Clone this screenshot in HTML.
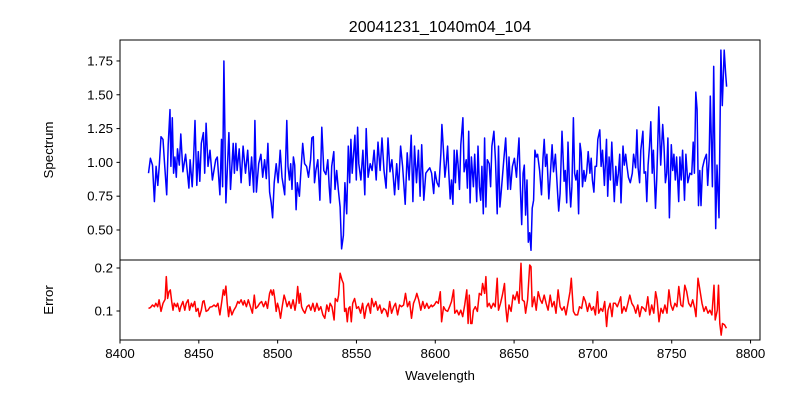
<!DOCTYPE html>
<html><head><meta charset="utf-8"><style>
html,body{margin:0;padding:0;background:#fff;}
svg{display:block;font-family:"Liberation Sans","DejaVu Sans",sans-serif;}
</style></head><body>
<svg id="chart" width="800" height="400" viewBox="0 0 800 400"></svg>
<script>
const specWl=[8418.1,8419.3,8420.6,8421.8,8422.9,8424.0,8425.0,8426.0,8427.3,8428.1,8429.6,8430.6,8431.7,8432.3,8433.2,8434.0,8434.8,8435.7,8436.5,8437.6,8438.6,8439.9,8441.6,8443.7,8444.5,8445.8,8446.6,8447.6,8448.7,8449.7,8450.6,8451.6,8452.9,8453.7,8454.6,8455.8,8457.1,8458.6,8460.7,8461.7,8463.4,8464.4,8465.1,8465.9,8467.2,8469.1,8470.1,8471.8,8472.6,8473.5,8474.3,8475.6,8476.8,8478.1,8479.6,8481.0,8482.3,8483.5,8484.8,8485.6,8486.5,8488.0,8489.4,8490.5,8491.7,8492.8,8493.8,8494.9,8495.9,8496.8,8497.8,8499.1,8500.3,8501.6,
8502.8,8504.5,8505.8,8506.6,8507.5,8508.3,8509.1,8510.0,8510.8,8511.7,8512.5,8513.8,8514.6,8515.9,8517.1,8518.4,8519.6,8520.9,8521.7,8522.6,8523.4,8524.3,8525.5,8526.8,8528.0,8529.3,8530.6,8531.8,8532.7,8533.5,8534.3,8535.6,8536.4,8537.5,8538.5,8539.6,8540.6,8541.7,8542.7,8543.8,8544.8,8545.7,8546.5,8547.3,8549.0,8549.9,8550.7,8551.5,8552.8,8554.1,8555.3,8556.2,8557.4,8558.7,8559.9,8561.2,8562.5,8563.7,8565.0,8566.2,8567.5,8568.8,8570.0,8571.3,8572.5,8573.4,8574.2,8575.5,8576.7,8578.0,8579.3,8580.9,8582.2,8583.4,8584.7,8585.8,8586.8,8588.1,8589.3,8590.4,8591.4,8592.7,8594.0,8595.2,8596.5,8597.7,8599.0,8599.8,8601.1,8602.3,8603.6,8604.2,
8605.3,8606.1,8607.0,8607.8,8608.6,8609.5,8610.3,8611.2,8612.0,8612.8,8613.7,8614.5,8615.4,8616.2,8617.5,8618.3,8619.6,8620.4,8621.2,8622.1,8622.9,8624.2,8625.0,8626.3,8627.1,8628.0,8628.8,8629.6,8630.5,8631.3,8632.1,8633.0,8634.2,8635.1,8635.9,8637.2,8638.2,8639.3,8640.1,8641.0,8641.8,8642.6,8643.5,8644.7,8646.0,8646.8,8647.7,8648.9,8650.2,8651.5,8652.3,8653.1,8654.0,8654.8,8655.7,8656.5,8657.3,8658.2,8659.0,8659.9,8660.7,8661.5,8662.4,8663.2,8664.1,8664.9,8666.2,8667.4,8668.3,8669.1,8669.9,8670.8,8672.0,8672.9,8674.1,8675.0,8676.2,8677.5,8678.3,8679.2,8680.4,8681.7,8682.5,8683.4,8684.2,8685.0,8685.9,8686.7,8687.6,8688.4,8689.2,8690.1,8690.9,8691.8,8692.6,8693.4,8694.3,8695.1,8696.0,8697.0,8698.1,8698.9,8699.7,8700.6,8701.4,8702.3,8703.1,8704.4,
8705.2,8706.1,8707.3,8708.6,8709.4,8710.3,8711.1,8712.0,8712.8,8713.6,8714.5,8715.3,8716.2,8717.0,8717.8,8719.1,8719.9,8720.8,8721.6,8722.5,8723.7,8725.0,8725.8,8727.1,8727.9,8728.7,8729.6,8730.4,8731.7,8732.5,8733.4,8734.2,8735.0,8735.9,8736.7,8737.6,8738.4,8739.7,8740.5,8741.8,8743.0,8744.3,8745.1,8746.0,8746.8,8747.6,8748.5,8749.7,8750.6,8751.4,8752.3,8753.1,8754.4,8755.2,8756.0,8756.9,8758.1,8759.0,8760.2,8761.5,8762.7,8763.6,8764.4,8765.3,8766.1,8767.0,8767.8,8768.6,8769.5,8770.7,8772.0,8772.8,8773.7,8774.5,8775.8,8776.6,8777.9,8778.7,8780.0,8781.2,8782.1,8783.3,8784.2,8784.8];
const specFlux=[0.92,1.03,0.98,0.71,0.97,0.83,0.99,1.19,1.17,1.02,0.76,1.13,1.39,0.97,1.33,0.92,1.04,0.89,1.10,0.98,1.21,0.93,1.06,0.81,1.02,0.82,1.01,1.31,0.83,1.08,0.86,1.14,1.22,0.92,1.29,0.97,1.09,0.87,1.02,1.04,0.76,1.17,0.82,1.75,0.70,1.22,0.80,1.14,0.92,1.14,0.94,1.10,0.85,1.12,0.92,1.09,0.83,1.04,0.78,1.31,0.78,0.99,1.06,0.89,1.02,0.88,1.14,0.78,0.70,0.59,0.85,0.99,0.85,1.09,
0.89,0.76,1.31,0.97,0.87,0.99,0.80,1.04,0.98,0.65,0.85,0.75,0.91,1.14,0.99,0.97,0.89,1.02,1.18,1.19,0.85,0.94,1.02,0.72,1.26,0.94,0.91,1.02,0.82,0.70,0.97,1.08,0.80,0.94,0.80,0.67,0.36,0.46,0.85,0.62,1.12,0.85,1.17,0.92,1.20,0.87,1.26,0.99,0.87,1.09,0.76,1.25,0.89,0.99,0.94,1.09,0.87,1.15,0.94,1.18,0.94,0.81,1.18,0.93,1.02,0.89,0.76,0.99,0.80,1.12,0.97,0.69,1.07,0.87,1.20,0.71,1.12,0.85,1.09,0.75,1.13,0.72,0.92,0.94,0.96,0.92,0.77,0.93,0.85,0.82,1.07,1.28,
1.07,0.89,0.99,1.12,0.92,0.73,0.87,0.69,1.09,0.85,1.09,0.98,0.80,1.13,1.33,0.93,1.02,0.81,1.23,0.70,1.04,0.82,1.06,0.71,1.12,0.82,0.72,0.97,0.62,1.18,0.67,1.02,0.99,0.82,1.12,1.23,1.01,0.62,1.12,0.67,0.78,0.89,1.02,1.18,0.80,1.04,0.80,0.97,1.03,0.89,1.04,1.18,0.80,0.54,0.92,0.98,0.61,0.87,0.41,0.48,0.35,0.66,0.72,1.09,1.04,1.06,0.94,0.76,1.02,1.17,0.97,1.06,0.73,0.89,1.13,0.93,1.06,0.80,0.64,0.77,1.23,0.86,0.94,0.70,1.15,0.87,0.67,0.82,1.33,0.92,0.87,0.94,0.62,1.14,1.07,0.82,0.94,0.86,0.92,1.08,0.92,1.03,0.87,0.78,0.97,0.97,1.17,1.24,
0.97,1.09,0.83,1.17,0.75,1.04,0.87,1.15,0.92,0.71,0.97,0.83,0.92,1.06,0.70,1.12,0.98,1.06,0.97,0.89,0.85,0.92,1.06,0.96,1.24,0.96,0.85,1.09,1.23,0.92,0.93,0.71,0.98,1.12,1.30,0.92,1.09,0.66,0.87,1.41,0.98,1.28,1.12,0.85,0.92,1.18,0.59,1.13,0.94,1.06,0.87,1.04,0.71,1.04,0.87,1.09,0.72,1.06,0.85,0.92,0.91,1.15,0.92,1.52,1.39,0.68,0.94,0.68,0.96,1.02,1.06,0.83,1.02,1.49,0.82,1.71,0.51,0.98,0.59,1.83,1.42,1.83,1.66,1.56];
const errWl=[8418.1,8419.3,8420.6,8421.8,8422.7,8423.9,8424.8,8426.0,8427.3,8428.6,8429.4,8430.2,8431.1,8431.9,8432.8,8433.6,8434.4,8435.7,8436.5,8437.8,8438.6,8439.9,8441.1,8442.0,8443.2,8444.1,8445.3,8446.2,8447.4,8448.3,8449.5,8450.4,8451.6,8452.5,8453.3,8454.6,8455.8,8457.1,8458.4,8459.6,8460.9,8462.1,8463.4,8464.7,8465.5,8466.3,8467.2,8468.0,8468.9,8469.7,8471.0,8472.2,8473.5,8474.7,8475.6,8476.8,8478.1,8478.9,8480.2,8481.4,8482.7,8484.0,8485.2,8486.1,8487.3,8488.6,8489.8,8491.1,8492.4,8493.6,8494.9,8495.7,8496.6,8497.4,8498.2,8499.1,8499.9,8500.8,8501.8,8502.9,8504.1,8505.0,
8506.0,8507.3,8508.5,8509.8,8511.0,8511.9,8512.7,8513.6,8514.4,8515.2,8516.1,8517.3,8518.6,8519.9,8521.1,8522.4,8523.6,8524.9,8526.1,8527.4,8528.7,8529.9,8531.2,8532.4,8533.3,8534.5,8535.8,8536.6,8537.9,8538.7,8539.6,8540.8,8541.7,8542.5,8543.4,8544.2,8545.0,8545.9,8546.7,8547.6,8548.8,8550.1,8551.3,8552.6,8553.9,8555.1,8556.4,8557.6,8558.9,8559.7,8561.0,8562.3,8563.5,8564.8,8566.0,8567.3,8568.6,8569.8,8571.1,8572.3,8573.6,8574.8,8576.1,8577.4,8578.6,8579.9,8581.1,8582.4,8583.7,8584.9,8586.2,8587.4,8588.3,8589.5,8590.8,8592.1,8593.3,8594.6,8595.8,8597.5,
8598.1,8599.4,8600.7,8601.9,8603.2,8604.0,8605.3,8606.5,8607.8,8609.1,8610.3,8611.6,8612.4,8613.7,8614.9,8616.2,8617.4,8618.7,8620.0,8620.8,8621.6,8622.5,8623.3,8624.2,8625.4,8626.7,8627.9,8629.2,8630.0,8631.3,8632.1,8633.0,8634.2,8635.5,8636.8,8638.0,8639.3,8640.1,8641.4,8642.6,8643.9,8644.7,8645.6,8646.8,8648.1,8649.4,8650.6,8651.9,8653.1,8654.4,8655.2,8656.5,8657.3,8658.6,8659.9,8660.7,8661.5,8662.8,8664.0,8665.3,8666.6,8667.8,8669.1,8670.3,8671.6,8672.9,8674.1,8675.4,8676.6,8677.9,8679.2,8680.4,8681.7,8682.9,8684.2,8685.5,8686.3,8687.6,8688.8,
8690.3,8691.5,8692.8,8694.1,8695.3,8696.6,8697.8,8699.1,8700.4,8701.6,8702.9,8703.7,8705.0,8706.2,8707.5,8708.7,8709.6,8710.9,8712.1,8713.0,8714.2,8715.5,8716.7,8717.6,8718.4,8719.7,8720.9,8722.2,8723.4,8724.7,8726.0,8727.2,8728.5,8729.7,8731.0,8732.3,8733.5,8734.8,8736.0,8737.3,8738.6,8739.8,8740.7,8741.9,8743.2,8744.4,8745.7,8747.0,8748.2,8749.5,8750.7,8752.0,8753.3,8754.5,8755.8,8757.0,8758.3,8759.5,8760.8,8762.1,8763.3,8764.6,8765.4,8766.7,8767.9,8769.2,8770.5,8771.7,8773.0,8774.2,8775.5,8776.8,8777.6,8778.9,8779.7,8780.5,8781.4,8782.2,8783.5,8784.7];
const errVal=[0.106,0.108,0.114,0.110,0.118,0.110,0.126,0.099,0.118,0.127,0.180,0.129,0.145,0.149,0.122,0.102,0.118,0.110,0.118,0.099,0.110,0.122,0.102,0.118,0.126,0.102,0.118,0.110,0.122,0.099,0.106,0.087,0.102,0.122,0.124,0.099,0.102,0.109,0.110,0.114,0.110,0.118,0.091,0.126,0.149,0.137,0.158,0.118,0.087,0.110,0.091,0.102,0.110,0.122,0.118,0.126,0.114,0.124,0.110,0.126,0.110,0.095,0.137,0.106,0.110,0.118,0.122,0.110,0.122,0.106,0.141,0.149,0.137,0.149,0.129,0.099,0.118,0.106,0.083,0.110,0.137,0.126,
0.110,0.122,0.106,0.126,0.102,0.122,0.157,0.118,0.141,0.110,0.102,0.095,0.110,0.114,0.102,0.118,0.099,0.118,0.102,0.110,0.091,0.083,0.114,0.099,0.118,0.110,0.079,0.129,0.122,0.137,0.188,0.172,0.164,0.099,0.106,0.075,0.106,0.110,0.075,0.118,0.129,0.106,0.110,0.095,0.118,0.083,0.110,0.118,0.095,0.129,0.110,0.122,0.102,0.114,0.095,0.106,0.102,0.087,0.122,0.095,0.110,0.118,0.091,0.114,0.110,0.114,0.141,0.110,0.122,0.083,0.118,0.129,0.141,0.126,0.102,0.122,0.106,0.118,0.106,0.114,
0.110,0.114,0.122,0.118,0.145,0.075,0.110,0.102,0.099,0.110,0.122,0.149,0.095,0.102,0.091,0.102,0.087,0.114,0.149,0.071,0.137,0.071,0.071,0.102,0.110,0.099,0.141,0.137,0.164,0.141,0.180,0.110,0.118,0.106,0.118,0.110,0.176,0.102,0.118,0.137,0.164,0.110,0.075,0.114,0.099,0.137,0.126,0.145,0.118,0.211,0.126,0.122,0.095,0.126,0.207,0.203,0.110,0.133,0.102,0.145,0.126,0.118,0.137,0.118,0.102,0.137,0.110,0.122,0.095,0.149,0.110,0.102,0.110,0.091,0.118,0.145,0.176,0.099,0.091,
0.091,0.110,0.106,0.133,0.122,0.099,0.118,0.102,0.110,0.091,0.145,0.095,0.106,0.099,0.122,0.064,0.102,0.118,0.087,0.118,0.118,0.110,0.122,0.133,0.095,0.110,0.099,0.118,0.137,0.118,0.110,0.095,0.114,0.087,0.110,0.106,0.099,0.133,0.091,0.114,0.095,0.145,0.126,0.075,0.106,0.095,0.114,0.095,0.149,0.114,0.102,0.118,0.110,0.157,0.114,0.110,0.160,0.145,0.118,0.110,0.126,0.106,0.087,0.176,0.149,0.118,0.099,0.110,0.095,0.102,0.091,0.160,0.079,0.102,0.160,0.071,0.044,0.071,0.068,0.060];
const xTicks=[8400,8450,8500,8550,8600,8650,8700,8750,8800];
const specTicks=[0.50,0.75,1.00,1.25,1.50,1.75];
const errTicks=[0.1,0.2];
const titleText="20041231_1040m04_104";

const NS="http://www.w3.org/2000/svg";
const svg=document.getElementById('chart');
const L=120,R=760,T1=40,B1=260,T2=260,B2=340;
const xMin=8400,xMax=8806;
function xs(v){return L+(v-xMin)/(xMax-xMin)*(R-L);}
const s1Min=0.278,s1Max=1.905;
function ys1(v){return B1-(v-s1Min)/(s1Max-s1Min)*(B1-T1);}
const s2Min=0.0326,s2Max=0.2186;
function ys2(v){return B2-(v-s2Min)/(s2Max-s2Min)*(B2-T2);}
function el(tag,attrs,parent){const e=document.createElementNS(NS,tag);for(const k in attrs)e.setAttribute(k,attrs[k]);(parent||svg).appendChild(e);return e;}
function txt(s,attrs,parent){const e=el('text',attrs,parent);e.textContent=s;return e;}

let clip=el('clipPath',{id:'c1'});el('rect',{x:L,y:T1,width:R-L,height:B1-T1},clip);
let clip2=el('clipPath',{id:'c2'});el('rect',{x:L,y:T2,width:R-L,height:B2-T2},clip2);

// spectrum line
let d='';specWl.forEach((w,i)=>{d+=(i?'L':'M')+xs(w).toFixed(1)+','+ys1(specFlux[i]).toFixed(1);});
const sp=el('path',{d:d,fill:'none',stroke:'#0000ff','stroke-width':1.5,'stroke-linejoin':'round','clip-path':'url(#c1)'});


let d2='';errWl.forEach((w,i)=>{d2+=(i?'L':'M')+xs(w).toFixed(1)+','+ys2(errVal[i]).toFixed(1);});
const ep=el('path',{d:d2,fill:'none',stroke:'#ff0000','stroke-width':1.5,'stroke-linejoin':'round','clip-path':'url(#c2)'});



// frames
const f1=el('rect',{x:L,y:T1,width:R-L,height:B1-T1,fill:'none',stroke:'#000','stroke-width':1});


const f2=el('rect',{x:L,y:T2,width:R-L,height:B2-T2,fill:'none',stroke:'#000','stroke-width':1});



specTicks.forEach(v=>{const y=ys1(v);el('line',{x1:L-3.5,x2:L,y1:y,y2:y,stroke:'#000'});
 const t=txt(v.toFixed(2),{x:L-7,y:y+4.5,'text-anchor':'end','font-size':'13.3px',fill:'#000'});
 
 });
errTicks.forEach(v=>{const y=ys2(v);el('line',{x1:L-3.5,x2:L,y1:y,y2:y,stroke:'#000'});
 const t=txt(v.toFixed(1),{x:L-7,y:y+4.5,'text-anchor':'end','font-size':'13.3px',fill:'#000'});
 
 });
xTicks.forEach(v=>{const x=xs(v);el('line',{x1:x,x2:x,y1:B2,y2:B2+3.5,stroke:'#000'});
 const t=txt(String(v),{x:x,y:B2+18,'text-anchor':'middle','font-size':'13.3px',fill:'#000'});
 
 });

const tt=txt(titleText,{x:440,y:32,'text-anchor':'middle','font-size':'16px',fill:'#000'});


const xl=txt('Wavelength',{x:440,y:380,'text-anchor':'middle','font-size':'13.3px',fill:'#000'});


const yl1=txt('Spectrum',{x:0,y:0,'text-anchor':'middle','font-size':'13.3px',fill:'#000',transform:'translate(53,150) rotate(-90)'});


const yl2=txt('Error',{x:0,y:0,'text-anchor':'middle','font-size':'13.3px',fill:'#000',transform:'translate(53,300) rotate(-90)'});


</script>
</body></html>
